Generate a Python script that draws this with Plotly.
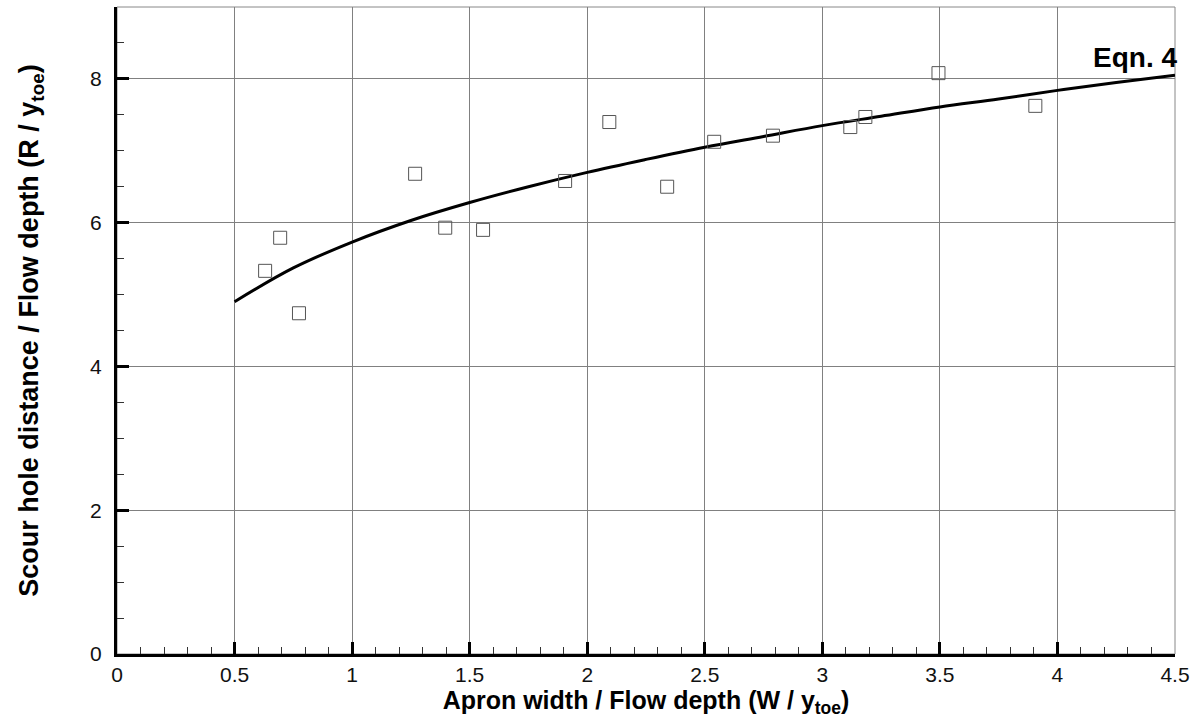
import plotly.graph_objects as go

data_x = [0.63, 0.694, 0.774, 1.268, 1.396, 1.557, 1.906, 2.094, 2.34, 2.54, 2.79, 3.119, 3.183, 3.494, 3.906]
data_y = [5.33, 5.79, 4.74, 6.68, 5.93, 5.90, 6.58, 7.40, 6.50, 7.125, 7.21, 7.33, 7.47, 8.08, 7.625]

# Eqn. 4 curve
curve_x = [0.5, 0.75, 1.0, 1.25, 1.5, 1.75, 2.0, 2.25, 2.5, 2.75, 3.0, 3.25, 3.5, 3.75, 4.0, 4.25, 4.5]
curve_y = [4.90, 5.37, 5.73, 6.03, 6.28, 6.50, 6.70, 6.88, 7.05, 7.20, 7.35, 7.48, 7.61, 7.72, 7.84, 7.95, 8.05]

x_ticks = [0, 0.5, 1, 1.5, 2, 2.5, 3, 3.5, 4, 4.5]
x_tick_labels = ["0", "0.5", "1", "1.5", "2", "2.5", "3", "3.5", "4", "4.5"]
y_ticks = [0, 2, 4, 6, 8]
y_tick_labels = ["0", "2", "4", "6", "8"]

font_family = "Liberation Sans, Arial, sans-serif"

fig = go.Figure()
fig.add_trace(go.Scatter(
    x=curve_x, y=curve_y, mode="lines",
    line=dict(color="black", width=3, shape="spline"),
    showlegend=False, hoverinfo="skip"))
fig.add_trace(go.Scatter(
    x=data_x, y=data_y, mode="markers",
    marker=dict(symbol="square-open", size=13, color="#555555", line=dict(width=1, color="#555555")),
    showlegend=False))

fig.add_annotation(
    x=4.5, y=8.06, xref="x", yref="y", text="<b>Eqn. 4</b>",
    showarrow=False, xanchor="right", yanchor="bottom", xshift=4,
    font=dict(family=font_family, size=28, color="black"))

# top/right thin frame
fig.add_shape(type="rect", xref="paper", yref="paper", x0=0, y0=0, x1=1, y1=1,
              line=dict(color="#888888", width=1), layer="below")

fig.update_xaxes(
    range=[0, 4.5], tickmode="array", tickvals=x_ticks, ticktext=x_tick_labels,
    showgrid=True, gridcolor="#808080", gridwidth=1, zeroline=False,
    showline=True, linecolor="black", linewidth=3,
    ticks="inside", ticklen=12, tickwidth=3, tickcolor="black",
    minor=dict(dtick=0.1, ticks="inside", ticklen=7, tickwidth=1.2, tickcolor="#333333", showgrid=False),
    tickfont=dict(family=font_family, size=21, color="#111111"),
    title=dict(text="<b>Apron width / Flow depth (W / y<sub>toe</sub>)</b>",
               font=dict(family=font_family, size=25, color="black"), standoff=4),
)
fig.update_yaxes(
    range=[0, 9], tickmode="array", tickvals=y_ticks, ticktext=y_tick_labels,
    showgrid=True, gridcolor="#808080", gridwidth=1, zeroline=False,
    showline=True, linecolor="black", linewidth=3,
    ticks="inside", ticklen=12, tickwidth=3, tickcolor="black",
    minor=dict(dtick=0.5, ticks="inside", ticklen=7, tickwidth=1.2, tickcolor="#333333", showgrid=False),
    tickfont=dict(family=font_family, size=21, color="#111111"),
    ticklabelstandoff=8,
    title=dict(text="<b>Scour hole distance / Flow depth (R / y<sub>toe</sub>)</b>",
               font=dict(family=font_family, size=27, color="black"), standoff=44),
)

fig.update_layout(
    width=1200, height=719,
    margin=dict(l=117, r=25, t=7, b=65),
    paper_bgcolor="white", plot_bgcolor="white",
)

fig.write_html("out.html")
